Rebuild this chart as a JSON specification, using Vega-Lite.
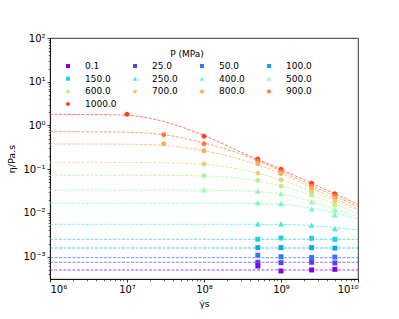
{
 "$schema": "https://vega.github.io/schema/vega-lite/v6.json",
 "width": 308, "height": 241,
 "autosize": {"type": "none"},
 "padding": {"left": 50, "top": 38, "right": 41, "bottom": 40},
 "config": {
   "font": "DejaVu Sans",
   "view": {"stroke": "#000", "strokeWidth": 0.8},
   "axis": {"domainColor": "#000", "tickColor": "#000", "labelColor": "#000", "titleColor": "#000", "grid": false, "labelFont": "DejaVu Sans", "titleFont": "DejaVu Sans", "labelFontSize": 10, "titleFontSize": 9.5, "titleFontWeight": "normal", "tickSize": 3, "domainWidth": 0.8, "tickWidth": 0.8, "labelPadding": 2},
   "legend": {"labelFont": "DejaVu Sans", "titleFont": "DejaVu Sans", "labelFontSize": 9, "titleFontSize": 9, "titleFontWeight": "normal", "labelColor": "#000", "titleColor": "#000"}
 },
 "datasets": {
  "lines": [
   {"P": "1000.0", "k": 12, "x": 1e6, "eta": 1.80}, {"P": "1000.0", "k": 12, "x": 3e6, "eta": 1.78}, {"P": "1000.0", "k": 12, "x": 1e7, "eta": 1.71}, {"P": "1000.0", "k": 12, "x": 3e7, "eta": 1.233}, {"P": "1000.0", "k": 12, "x": 1e8, "eta": 0.590}, {"P": "1000.0", "k": 12, "x": 3e8, "eta": 0.2475}, {"P": "1000.0", "k": 12, "x": 1e9, "eta": 0.0996}, {"P": "1000.0", "k": 12, "x": 3e9, "eta": 0.0413}, {"P": "1000.0", "k": 12, "x": 1e10, "eta": 0.0158},
   {"P": "900.0", "k": 8, "x": 1e6, "eta": 0.721}, {"P": "900.0", "k": 8, "x": 3e6, "eta": 0.719}, {"P": "900.0", "k": 8, "x": 1e7, "eta": 0.698}, {"P": "900.0", "k": 8, "x": 3e7, "eta": 0.615}, {"P": "900.0", "k": 8, "x": 1e8, "eta": 0.398}, {"P": "900.0", "k": 8, "x": 3e8, "eta": 0.223}, {"P": "900.0", "k": 8, "x": 1e9, "eta": 0.0911}, {"P": "900.0", "k": 8, "x": 3e9, "eta": 0.0363}, {"P": "900.0", "k": 8, "x": 1e10, "eta": 0.0141},
   {"P": "800.0", "k": 4, "x": 1e6, "eta": 0.377}, {"P": "800.0", "k": 4, "x": 3e6, "eta": 0.377}, {"P": "800.0", "k": 4, "x": 1e7, "eta": 0.373}, {"P": "800.0", "k": 4, "x": 3e7, "eta": 0.349}, {"P": "800.0", "k": 4, "x": 1e8, "eta": 0.265}, {"P": "800.0", "k": 4, "x": 3e8, "eta": 0.167}, {"P": "800.0", "k": 4, "x": 1e9, "eta": 0.0798}, {"P": "800.0", "k": 4, "x": 3e9, "eta": 0.0318}, {"P": "800.0", "k": 4, "x": 1e10, "eta": 0.0123},
   {"P": "700.0", "k": 11, "x": 1e6, "eta": 0.144}, {"P": "700.0", "k": 11, "x": 3e6, "eta": 0.144}, {"P": "700.0", "k": 11, "x": 1e7, "eta": 0.143}, {"P": "700.0", "k": 11, "x": 3e7, "eta": 0.140}, {"P": "700.0", "k": 11, "x": 1e8, "eta": 0.1296}, {"P": "700.0", "k": 11, "x": 3e8, "eta": 0.0985}, {"P": "700.0", "k": 11, "x": 1e9, "eta": 0.0567}, {"P": "700.0", "k": 11, "x": 3e9, "eta": 0.0271}, {"P": "700.0", "k": 11, "x": 1e10, "eta": 0.0114},
   {"P": "600.0", "k": 7, "x": 1e6, "eta": 0.0726}, {"P": "600.0", "k": 7, "x": 3e6, "eta": 0.0726}, {"P": "600.0", "k": 7, "x": 1e7, "eta": 0.0726}, {"P": "600.0", "k": 7, "x": 3e7, "eta": 0.0723}, {"P": "600.0", "k": 7, "x": 1e8, "eta": 0.0700}, {"P": "600.0", "k": 7, "x": 3e8, "eta": 0.0614}, {"P": "600.0", "k": 7, "x": 1e9, "eta": 0.0413}, {"P": "600.0", "k": 7, "x": 3e9, "eta": 0.0226}, {"P": "600.0", "k": 7, "x": 1e10, "eta": 0.0095},
   {"P": "500.0", "k": 3, "x": 1e6, "eta": 0.033}, {"P": "500.0", "k": 3, "x": 1e7, "eta": 0.033}, {"P": "500.0", "k": 3, "x": 1e8, "eta": 0.033}, {"P": "500.0", "k": 3, "x": 3e8, "eta": 0.0321}, {"P": "500.0", "k": 3, "x": 1e9, "eta": 0.0274}, {"P": "500.0", "k": 3, "x": 3e9, "eta": 0.01645}, {"P": "500.0", "k": 3, "x": 1e10, "eta": 0.0081},
   {"P": "400.0", "k": 10, "x": 1e6, "eta": 0.01663}, {"P": "400.0", "k": 10, "x": 1e8, "eta": 0.01663}, {"P": "400.0", "k": 10, "x": 3e8, "eta": 0.0166}, {"P": "400.0", "k": 10, "x": 1e9, "eta": 0.01562}, {"P": "400.0", "k": 10, "x": 3e9, "eta": 0.0120}, {"P": "400.0", "k": 10, "x": 1e10, "eta": 0.0073},
   {"P": "250.0", "k": 6, "x": 1e6, "eta": 0.0055}, {"P": "250.0", "k": 6, "x": 3e8, "eta": 0.0055}, {"P": "250.0", "k": 6, "x": 1e9, "eta": 0.00545}, {"P": "250.0", "k": 6, "x": 3e9, "eta": 0.00503}, {"P": "250.0", "k": 6, "x": 1e10, "eta": 0.00408},
   {"P": "150.0", "k": 2, "x": 1e6, "eta": 0.0025}, {"P": "150.0", "k": 2, "x": 1e10, "eta": 0.0025},
   {"P": "100.0", "k": 13, "x": 1e6, "eta": 0.00158}, {"P": "100.0", "k": 13, "x": 1e10, "eta": 0.00158},
   {"P": "50.0", "k": 9, "x": 1e6, "eta": 0.000949}, {"P": "50.0", "k": 9, "x": 1e10, "eta": 0.000949},
   {"P": "25.0", "k": 5, "x": 1e6, "eta": 0.000745}, {"P": "25.0", "k": 5, "x": 1e10, "eta": 0.000745},
   {"P": "0.1", "k": 1, "x": 1e6, "eta": 0.000497}, {"P": "0.1", "k": 1, "x": 1e10, "eta": 0.000497}
  ],
  "pts": [
   {"P": "1000.0", "k": 12, "x": 1e7, "eta": 1.80}, {"P": "1000.0", "k": 12, "x": 1e8, "eta": 0.566}, {"P": "1000.0", "k": 12, "x": 5e8, "eta": 0.171}, {"P": "1000.0", "k": 12, "x": 1e9, "eta": 0.0996}, {"P": "1000.0", "k": 12, "x": 2.5e9, "eta": 0.0477}, {"P": "1000.0", "k": 12, "x": 5e9, "eta": 0.0274},
   {"P": "900.0", "k": 8, "x": 3e7, "eta": 0.615}, {"P": "900.0", "k": 8, "x": 1e8, "eta": 0.383}, {"P": "900.0", "k": 8, "x": 5e8, "eta": 0.154}, {"P": "900.0", "k": 8, "x": 1e9, "eta": 0.0887}, {"P": "900.0", "k": 8, "x": 2.5e9, "eta": 0.0413}, {"P": "900.0", "k": 8, "x": 5e9, "eta": 0.0244},
   {"P": "800.0", "k": 4, "x": 3e7, "eta": 0.383}, {"P": "800.0", "k": 4, "x": 1e8, "eta": 0.265}, {"P": "800.0", "k": 4, "x": 5e8, "eta": 0.135}, {"P": "800.0", "k": 4, "x": 1e9, "eta": 0.0798}, {"P": "800.0", "k": 4, "x": 2.5e9, "eta": 0.0366}, {"P": "800.0", "k": 4, "x": 5e9, "eta": 0.0214},
   {"P": "700.0", "k": 11, "x": 1e8, "eta": 0.1316}, {"P": "700.0", "k": 11, "x": 5e8, "eta": 0.0807}, {"P": "700.0", "k": 11, "x": 1e9, "eta": 0.0567}, {"P": "700.0", "k": 11, "x": 2.5e9, "eta": 0.0306}, {"P": "700.0", "k": 11, "x": 5e9, "eta": 0.0188},
   {"P": "600.0", "k": 7, "x": 1e8, "eta": 0.0711}, {"P": "600.0", "k": 7, "x": 5e8, "eta": 0.0553}, {"P": "600.0", "k": 7, "x": 1e9, "eta": 0.0413}, {"P": "600.0", "k": 7, "x": 2.5e9, "eta": 0.0257}, {"P": "600.0", "k": 7, "x": 5e9, "eta": 0.0152},
   {"P": "500.0", "k": 3, "x": 1e8, "eta": 0.0335}, {"P": "500.0", "k": 3, "x": 5e8, "eta": 0.0313}, {"P": "500.0", "k": 3, "x": 1e9, "eta": 0.0274}, {"P": "500.0", "k": 3, "x": 2.5e9, "eta": 0.0178}, {"P": "500.0", "k": 3, "x": 5e9, "eta": 0.0117},
   {"P": "400.0", "k": 10, "x": 5e8, "eta": 0.0172}, {"P": "400.0", "k": 10, "x": 1e9, "eta": 0.0163}, {"P": "400.0", "k": 10, "x": 2.5e9, "eta": 0.0123}, {"P": "400.0", "k": 10, "x": 5e9, "eta": 0.0090},
   {"P": "250.0", "k": 6, "x": 5e8, "eta": 0.00559}, {"P": "250.0", "k": 6, "x": 1e9, "eta": 0.00559}, {"P": "250.0", "k": 6, "x": 2.5e9, "eta": 0.00522}, {"P": "250.0", "k": 6, "x": 5e9, "eta": 0.00437},
   {"P": "150.0", "k": 2, "x": 5e8, "eta": 0.0025}, {"P": "150.0", "k": 2, "x": 1e9, "eta": 0.00268}, {"P": "150.0", "k": 2, "x": 2.5e9, "eta": 0.00264}, {"P": "150.0", "k": 2, "x": 5e9, "eta": 0.0025},
   {"P": "100.0", "k": 13, "x": 5e8, "eta": 0.00161}, {"P": "100.0", "k": 13, "x": 1e9, "eta": 0.00161}, {"P": "100.0", "k": 13, "x": 2.5e9, "eta": 0.00161}, {"P": "100.0", "k": 13, "x": 5e9, "eta": 0.00157},
   {"P": "50.0", "k": 9, "x": 5e8, "eta": 0.00108}, {"P": "50.0", "k": 9, "x": 1e9, "eta": 0.000995}, {"P": "50.0", "k": 9, "x": 2.5e9, "eta": 0.00096}, {"P": "50.0", "k": 9, "x": 5e9, "eta": 0.00098},
   {"P": "25.0", "k": 5, "x": 5e8, "eta": 0.000745}, {"P": "25.0", "k": 5, "x": 1e9, "eta": 0.00073}, {"P": "25.0", "k": 5, "x": 2.5e9, "eta": 0.000745}, {"P": "25.0", "k": 5, "x": 5e9, "eta": 0.00072},
   {"P": "0.1", "k": 1, "x": 5e8, "eta": 0.000613}, {"P": "0.1", "k": 1, "x": 1e9, "eta": 0.000471}, {"P": "0.1", "k": 1, "x": 2.5e9, "eta": 0.000497}, {"P": "0.1", "k": 1, "x": 5e9, "eta": 0.000515}
  ]
 },
 "layer": [
  {
   "data": {"name": "lines"},
   "mark": {"type": "line", "strokeDash": [3, 1.5], "strokeWidth": 1, "opacity": 0.7, "interpolate": "monotone"},
   "encoding": {
    "x": {"field": "x", "type": "quantitative", "scale": {"type": "log", "domain": [1e6, 1e10], "nice": false},
          "axis": {"orient": "bottom", "title": "γ̇s", "values": [1e6, 1e7, 1e8, 1e9, 1e10], "titlePadding": 4,
                   "labelExpr": "'10' + ['⁶','⁷','⁸','⁹','¹⁰'][round(log(datum.value)/LN10) - 6]"}},
    "y": {"field": "eta", "type": "quantitative", "scale": {"type": "log", "domain": [0.000309, 100], "nice": false},
          "axis": {"orient": "left", "title": "η/Pa.s", "values": [0.001, 0.01, 0.1, 1, 10, 100], "titlePadding": 6,
                   "labelExpr": "'10' + ['⁻³','⁻²','⁻¹','⁰','¹','²'][round(log(datum.value)/LN10) + 3]"}},
    "color": {"field": "k", "type": "nominal", "legend": null,
               "scale": {"domain": [1,2,3,4,5,6,7,8,9,10,11,12,13],
                         "range": ["#8000ff","#1dd2e2","#93fda9","#ffa95a","#583dfd","#45eed2","#baee91","#ff773d","#3177f8","#6cfdbf","#e2d277","#ff3d1f","#0aa9ee"]}}
   }
  },
  {
   "data": {"name": "pts"},
   "mark": {"type": "point", "filled": true, "opacity": 1, "size": 100},
   "encoding": {
    "x": {"field": "x", "type": "quantitative",
          "axis": {"orient": "bottom", "title": null, "labels": false, "domain": false, "tickSize": 1.8, "tickWidth": 0.6,
                   "values": [2e6,3e6,4e6,5e6,6e6,7e6,8e6,9e6,2e7,3e7,4e7,5e7,6e7,7e7,8e7,9e7,2e8,3e8,4e8,5e8,6e8,7e8,8e8,9e8,2e9,3e9,4e9,5e9,6e9,7e9,8e9,9e9]}},
    "y": {"field": "eta", "type": "quantitative",
          "axis": {"orient": "left", "title": null, "labels": false, "domain": false, "tickSize": 1.8, "tickWidth": 0.6,
                   "values": [0.0004,0.0005,0.0006,0.0007,0.0008,0.0009,0.002,0.003,0.004,0.005,0.006,0.007,0.008,0.009,0.02,0.03,0.04,0.05,0.06,0.07,0.08,0.09,0.2,0.3,0.4,0.5,0.6,0.7,0.8,0.9,2,3,4,5,6,7,8,9,20,30,40,50,60,70,80,90]}},
    "color": {"field": "k", "type": "nominal",
              "scale": {"domain": [1,2,3,4,5,6,7,8,9,10,11,12,13],
                        "range": ["#8000ff","#1dd2e2","#93fda9","#ffa95a","#583dfd","#45eed2","#baee91","#ff773d","#3177f8","#6cfdbf","#e2d277","#ff3d1f","#0aa9ee"]},
              "legend": {"title": "P (MPa)", "orient": "none", "legendX": 13, "legendY": 12, "columns": 4, "titleAnchor": "middle", "titlePadding": 2, "rowPadding": 2.7, "columnPadding": 13, "labelOffset": 12, "symbolSize": 64, "gridAlign": "all",
                         "labelExpr": "['0.1','150.0','500.0','800.0','25.0','250.0','600.0','900.0','50.0','400.0','700.0','1000.0','100.0'][datum.value - 1]"}},
    "shape": {"field": "k", "type": "nominal",
              "scale": {"domain": [1,2,3,4,5,6,7,8,9,10,11,12,13],
                        "range": ["M-0.5,-0.5H0.5V0.5H-0.5Z","M-0.5,-0.5H0.5V0.5H-0.5Z","M0,-0.55L0.6,0.5H-0.6Z","M-0.5,0A0.5,0.5 0 1,0 0.5,0A0.5,0.5 0 1,0 -0.5,0Z",
                                  "M-0.5,-0.5H0.5V0.5H-0.5Z","M0,-0.55L0.6,0.5H-0.6Z","M-0.5,0A0.5,0.5 0 1,0 0.5,0A0.5,0.5 0 1,0 -0.5,0Z","M-0.5,0A0.5,0.5 0 1,0 0.5,0A0.5,0.5 0 1,0 -0.5,0Z",
                                  "M-0.5,-0.5H0.5V0.5H-0.5Z","M0,-0.55L0.6,0.5H-0.6Z","M-0.5,0A0.5,0.5 0 1,0 0.5,0A0.5,0.5 0 1,0 -0.5,0Z","M-0.5,0A0.5,0.5 0 1,0 0.5,0A0.5,0.5 0 1,0 -0.5,0Z",
                                  "M-0.5,-0.5H0.5V0.5H-0.5Z"]},
              "legend": {"title": "P (MPa)", "orient": "none", "legendX": 13, "legendY": 12, "columns": 4, "titleAnchor": "middle", "titlePadding": 2, "rowPadding": 2.7, "columnPadding": 13, "labelOffset": 12, "symbolSize": 64, "gridAlign": "all",
                         "labelExpr": "['0.1','150.0','500.0','800.0','25.0','250.0','600.0','900.0','50.0','400.0','700.0','1000.0','100.0'][datum.value - 1]"}}
   }
  }
 ],
 "resolve": {"axis": {"x": "independent", "y": "independent"}, "scale": {"color": "independent", "shape": "independent"}, "legend": {"color": "independent", "shape": "independent"}}
}
